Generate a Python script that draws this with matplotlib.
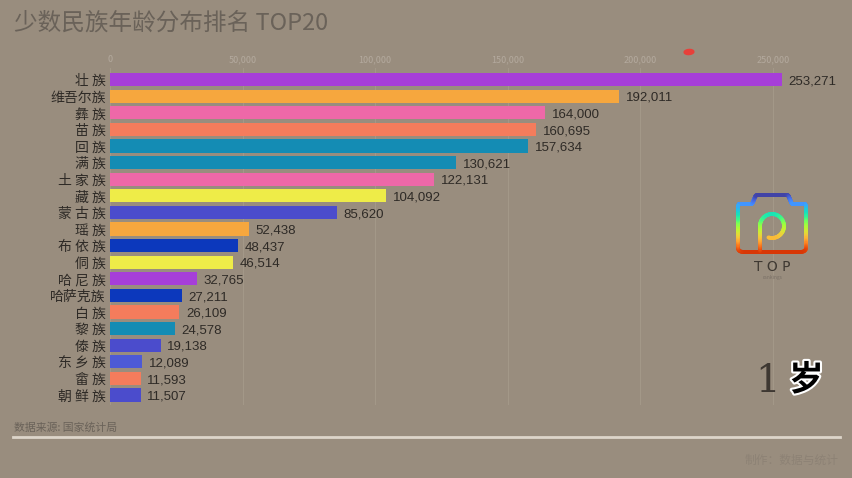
import numpy as np
import matplotlib.pyplot as plt
import matplotlib.patheffects as pe
from matplotlib.collections import LineCollection
from matplotlib.patches import Ellipse

plt.rcParams['font.family'] = ['Noto Sans CJK SC', 'DejaVu Sans']

# 数据
names = ["壮 族", "维吾尔族", "彝 族", "苗 族", "回 族", "满 族", "土 家 族", "藏 族",
         "蒙 古 族", "瑶 族", "布 依 族", "侗 族", "哈 尼 族", "哈萨克族", "白 族",
         "黎 族", "傣 族", "东 乡 族", "畲 族", "朝 鲜 族"]
values = [253271, 192011, 164000, 160695, 157634, 130621, 122131, 104092,
          85620, 52438, 48437, 46514, 32765, 27211, 26109,
          24578, 19138, 12089, 11593, 11507]
colors = ["#a63ed8", "#f6a73e", "#ee68a8", "#f47c5c", "#148cb4", "#148cb4",
          "#ee68a8", "#eeec48", "#4b4ccc", "#f6a73e", "#0c38bc", "#eeec48",
          "#a63ed8", "#0c38bc", "#f47c5c", "#148cb4", "#4b4ccc", "#4d5ad6",
          "#f47c5c", "#4b4ccc"]
xticks = [0, 50000, 100000, 150000, 200000, 250000]

bg = "#998d7e"
fig = plt.figure(figsize=(8.52, 4.78), dpi=100, facecolor=bg)
ax = fig.add_axes([110 / 852, 1 - 405 / 478, 700 / 852, 337 / 478])
ax.set_facecolor(bg)

y = np.arange(len(names))
ax.barh(y, values, height=0.8, color=colors)
for yi, v in zip(y, values):
    ax.text(v + 2500, yi + 0.1, f"{v:,}", va="center", ha="left",
            fontsize=9.5, color="#2e2a26", family=["Liberation Sans", "DejaVu Sans"])

ax.set_xlim(0, 264000)
ax.set_ylim(19.6, -0.7)
ax.set_yticks(y)
ax.set_yticklabels(names, fontsize=10, color="#2e2a26")
ax.tick_params(axis="y", length=0, pad=3)
ax.xaxis.tick_top()
ax.set_xticks(xticks)
ax.set_xticklabels([f"{t:,}" for t in xticks], fontsize=6.5, color="#b4aa9e")
ax.tick_params(axis="x", length=0, pad=3)
ax.grid(axis="x", color="#a39888", lw=0.8)
ax.set_axisbelow(True)
for s in ax.spines.values():
    s.set_visible(False)

# 标题和注释
fig.text(14 / 852, 1 - 23 / 478, "少数民族年龄分布排名 TOP20", fontsize=17,
         color="#6a6259", va="center", ha="left")
fig.text(14 / 852, 1 - 428 / 478, "数据来源: 国家统计局", fontsize=7.8,
         color="#6a6259", va="center", ha="left")
fig.add_artist(plt.Line2D([13 / 852, 840 / 852], [1 - 437 / 478, 1 - 437 / 478],
                          color="#ddd5ca", lw=2))
fig.text(839 / 852, 1 - 460 / 478, "制作：数据与统计", fontsize=8.5,
         color="#8d8275", va="center", ha="right")

# 年龄
fig.text(780 / 852, 1 - 381 / 478, "1", fontsize=28, color="#3e3832",
         family="DejaVu Serif", va="center", ha="right")
fig.text(789 / 852, 1 - 380 / 478, "岁", fontsize=25, color="black",
         fontweight="bold", va="center", ha="left",
         path_effects=[pe.withStroke(linewidth=3, foreground="white")])

# 标志
lax = fig.add_axes([730 / 852, 1 - 290 / 478, 85 / 852, 100 / 478])
lax.set_xlim(0, 85)
lax.set_ylim(100, 0)
lax.axis("off")


def rounded(pts, r=4):
    xs, ys = [], []
    for (x0, y0), (x1, y1) in zip(pts[:-1], pts[1:]):
        xs += list(np.linspace(x0, x1, 40))
        ys += list(np.linspace(y0, y1, 40))
    k = np.ones(9) / 9
    xs = np.convolve(np.pad(xs, 4, mode="wrap"), k, mode="valid")
    ys = np.convolve(np.pad(ys, 4, mode="wrap"), k, mode="valid")
    return xs, ys


px, py = rounded([(8, 14), (22, 14), (26, 5), (58, 5), (62, 14), (76, 14),
                  (76, 62), (8, 62), (8, 14)])
th = np.linspace(np.pi, -np.pi / 2 - 0.3, 80)
pin_x = np.concatenate([np.full(40, 30.0), 42 + 12 * np.cos(th)])
pin_y = np.concatenate([np.linspace(62, 36, 40), 36 - 12 * np.sin(th)])
for xs, ys in [(px, py), (pin_x, pin_y)]:
    seg = np.array([xs, ys]).T.reshape(-1, 1, 2)
    segs = np.concatenate([seg[:-1], seg[1:]], axis=1)
    lc = LineCollection(segs, cmap="turbo", linewidths=2.8, capstyle="round")
    lc.set_array(ys[:-1])
    lc.set_clim(0, 72)
    lax.add_collection(lc)
lax.text(42, 77, "T O P", fontsize=10, color="#3e3832", ha="center", va="center",
         family="DejaVu Sans")
lax.text(42, 88, "rankings", fontsize=3.5, color="#7a7066", ha="center", va="center")

# 红色小标
fig.add_artist(Ellipse((689 / 852, 1 - 52 / 478), 10 / 852, 5 / 478, angle=30,
                       color="#e8403a"))

fig.savefig("out.png", dpi=100, facecolor=bg)
